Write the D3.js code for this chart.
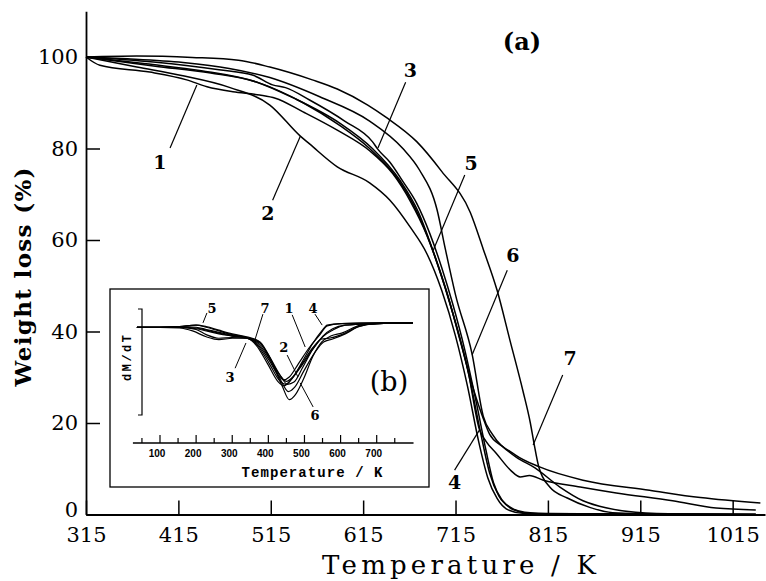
<!DOCTYPE html>
<html><head><meta charset="utf-8">
<script src="https://cdn.jsdelivr.net/npm/d3@7"></script>
<style>
html,body{margin:0;padding:0;background:#fff;}
svg{display:block;}
text{fill:#000;}
</style></head>
<body>
<svg id="chart" width="766" height="581"></svg>
<script>
// ---------- Main TGA data (Temperature K, Weight %) ----------
const tga1 = [[315,100],[330,98.2],[384,96.7],[424,95],[446,93.5],[474,92.4],[503,91.7],[520,91],[550,88],[587,84],[622,79.5],[647,74.5],[666,68.5],[684,61],[700,52],[715,42],[730,30],[742,18],[752,9],[762,4],[775,1.5],[790,0.5],[820,0.1],[1040,0]];
const tga2 = [[315,100],[370,97.8],[417,96],[471,93.3],[514,89.5],[547,82.7],[557,81],[587,76],[622,72.5],[644,68.7],[666,62.8],[684,57],[700,49],[715,39],[728,28],[740,16],[750,8],[760,3.5],[772,1],[790,0.2],[1040,0]];
const tga3 = [[315,100],[388,98.9],[459,97.2],[496,96],[517,93.9],[531,93.3],[557,90.6],[595,86],[625,81.5],[631,79.8],[644,77],[658,72.8],[673,68],[687,61.5],[700,54],[712,46],[725,36],[738,24],[748,14],[756,7],[766,3],[778,1],[795,0.2],[1040,0]];
const tga4 = [[315,100],[390,98],[450,96.5],[500,94.5],[540,91],[590,85.5],[625,80],[655,73],[675,66],[695,55],[712,44],[728,32],[741,18.5],[748,16],[759,13.4],[775,9.6],[785,8.2],[795,8.5],[810,7.5],[850,6],[889,4.7],[950,3],[997,1.4],[1040,1]];
const tga5 = [[315,100],[380,98.5],[440,97],[500,94.5],[550,90],[590,85],[622,80],[650,74],[670,67.5],[690,58],[705,49],[720,38],[735,27],[745,21],[752,17.5],[765,15],[781,12.5],[801,10.2],[828,6],[853,3],[879,1.4],[910,0.5],[960,0.1],[1040,0]];
const tga6 = [[315,100],[360,99.6],[420,98.8],[470,97.5],[514,95.5],[568,91.3],[622,86],[658,80],[676,75.3],[695,66.6],[704,58],[715,48],[733,35],[745,21.5],[755,17.5],[780,13],[806,10.4],[853,7.5],[925,5.3],[980,3.7],[1045,2.5]];
const tga7 = [[315,100],[370,100.2],[430,99.9],[480,99.3],[514,97.8],[560,95],[587,93],[620,89.5],[640,86.8],[673,81.5],[700,75],[731,66],[745,58],[760,49],[774,38],[788,27],[796,20],[800,15.5],[805,10.5],[817,6],[836,3.6],[861,1.5],[885,0.4],[950,0.1],[1040,0]];
const tgaSeries = [tga1, tga2, tga3, tga4, tga5, tga6, tga7];

// curve labels: [text, labelT, labelW, leaderFromT, leaderFromW, leaderToT, leaderToW]
const mainLabels = [
  ["1",395,77,406,80.1,435,93.9],
  ["2",512,65.9,517,68.7,547,82.7],
  ["3",666,97.2,661,94.5,631,80.1],
  ["5",732,76.8,725,74.2,691,57.8],
  ["6",777,56.7,771,53.4,733,34.9],
  ["7",839,34.2,831,30.5,799,15.2],
  ["4",714,7.1,714,9.7,741,18.5]
];
const xTicks = [315,415,515,615,715,815,915,1015];
const yTicks = [0,20,40,60,80,100];

// ---------- Inset DTG data (Temperature K, dM/dT arbitrary) ----------
const dtg1 = [[36,0],[100,0],[154,0.01],[200,0],[228,-0.03],[263,-0.07],[300,-0.11],[340,-0.14],[372,-0.24],[402,-0.45],[428,-0.66],[443,-0.72],[458,-0.68],[483,-0.5],[513,-0.28],[543,-0.1],[563,0.02],[600,0.05],[700,0.06],[800,0.06]];
const dtg2 = [[36,0],[100,0],[154,0],[200,-0.02],[228,-0.05],[263,-0.09],[300,-0.12],[340,-0.15],[372,-0.22],[402,-0.42],[433,-0.66],[450,-0.74],[468,-0.68],[493,-0.52],[523,-0.3],[553,-0.12],[578,-0.04],[613,0.03],[700,0.05],[800,0.06]];
const dtg3 = [[36,0],[100,0],[154,-0.01],[190,-0.05],[228,-0.13],[263,-0.17],[300,-0.15],[340,-0.15],[367,-0.25],[398,-0.5],[428,-0.75],[443,-0.8],[463,-0.72],[493,-0.5],[523,-0.28],[548,-0.16],[568,-0.15],[603,-0.1],[645,0],[700,0.05],[800,0.06]];
const dtg4 = [[36,0],[100,0],[154,0.01],[200,0.03],[228,0],[263,-0.05],[300,-0.1],[340,-0.14],[372,-0.26],[403,-0.5],[433,-0.74],[448,-0.78],[465,-0.7],[493,-0.48],[523,-0.22],[548,-0.05],[563,0.03],[603,0.05],[700,0.06],[800,0.06]];
const dtg5 = [[36,0],[100,0],[154,0.01],[200,0.03],[228,0.01],[263,-0.04],[300,-0.09],[340,-0.13],[377,-0.2],[408,-0.45],[438,-0.76],[455,-0.88],[473,-0.82],[498,-0.6],[528,-0.35],[553,-0.2],[578,-0.16],[613,-0.09],[655,0.02],[700,0.05],[800,0.06]];
const dtg6 = [[36,0],[100,0],[154,0],[200,-0.03],[228,-0.1],[263,-0.15],[300,-0.14],[340,-0.15],[377,-0.22],[408,-0.47],[438,-0.8],[458,-0.99],[475,-0.92],[498,-0.7],[523,-0.4],[548,-0.2],[573,-0.12],[603,-0.08],[655,0.03],[700,0.05],[800,0.06]];
const dtg7 = [[36,0],[100,0],[154,0],[200,-0.01],[228,-0.04],[263,-0.08],[300,-0.12],[340,-0.14],[372,-0.19],[403,-0.4],[433,-0.66],[453,-0.78],[471,-0.75],[495,-0.55],[523,-0.3],[551,-0.12],[578,-0.02],[613,0.03],[700,0.05],[800,0.06]];
const dtgSeries = [dtg1, dtg2, dtg3, dtg4, dtg5, dtg6, dtg7];

const insetLabels = [
  ["5",244,0.264,230,0.196,219,0.06],
  ["7",391,0.264,385,0.18,363,-0.17],
  ["3",294,-0.68,308,-0.56,338,-0.215],
  ["1",457,0.264,466,0.17,502,-0.27],
  ["4",524,0.264,529,0.18,549,0.03],
  ["2",443,-0.27,452,-0.38,482,-0.68],
  ["6",529,-1.2,524,-1.09,488,-0.76]
];
const insetMajorTicks = [100,200,300,400,500,600,700];
const insetMinorTicks = [50,150,250,350,450,550,650,750];

// ---------- Drawing ----------
const svg = d3.select("#chart");
const serif = "'DejaVu Serif','Liberation Serif',serif";

const x = d3.scaleLinear().domain([315,1050]).range([86,765]);
const y = d3.scaleLinear().domain([0,110]).range([514.5,11.25]);

// axes
const xAxis = d3.axisBottom(x).tickValues(xTicks).tickSizeInner(-14).tickSizeOuter(0).tickPadding(13).tickFormat(d3.format("d"));
const gx = svg.append("g").attr("transform","translate(0,514.5)").call(xAxis);
gx.selectAll("text").attr("font-family",serif).attr("font-size",21);
gx.selectAll("line").attr("stroke","#000").attr("stroke-width",1.5);
gx.select(".domain").attr("stroke","#000").attr("stroke-width",1.8);

const yAxis = d3.axisLeft(y).tickValues(yTicks).tickSizeInner(-14).tickSizeOuter(0).tickPadding(8).tickFormat(d3.format("d"));
const gy = svg.append("g").attr("transform","translate(86,0)").call(yAxis);
gy.selectAll("text").attr("font-family",serif).attr("font-size",21)
  .attr("y",d=>d===0?-5:0);
gy.selectAll("line").attr("stroke","#000").attr("stroke-width",1.5);
gy.select(".domain").attr("stroke","#000").attr("stroke-width",1.8);

// axis titles
svg.append("text").attr("x",459).attr("y",574).attr("text-anchor","middle")
  .attr("font-family",serif).attr("font-size",26).attr("textLength",274).attr("lengthAdjust","spacing")
  .text("Temperature / K");
svg.append("text").attr("transform","translate(31,277) rotate(-90)").attr("text-anchor","middle")
  .attr("font-family",serif).attr("font-weight","bold").attr("font-size",23).attr("textLength",219).attr("lengthAdjust","spacing")
  .text("Weight loss (%)");

// main curves
const line = d3.line().x(d=>x(d[0])).y(d=>y(d[1])).curve(d3.curveMonotoneX);
svg.append("g").selectAll("path").data(tgaSeries).join("path")
  .attr("d",line).attr("fill","none").attr("stroke","#000").attr("stroke-width",1.5);

// main labels
const gl = svg.append("g");
mainLabels.forEach(l=>{
  gl.append("line").attr("x1",x(l[3])).attr("y1",y(l[4])).attr("x2",x(l[5])).attr("y2",y(l[6]))
    .attr("stroke","#000").attr("stroke-width",1.2);
  gl.append("text").attr("x",x(l[1])).attr("y",y(l[2])).attr("dy","0.36em").attr("text-anchor","middle")
    .attr("font-family",serif).attr("font-weight","bold").attr("font-size",19).text(l[0]);
});
svg.append("text").attr("x",522).attr("y",41).attr("dy","0.36em").attr("text-anchor","middle")
  .attr("font-family",serif).attr("font-weight","bold").attr("font-size",24).text("(a)");

// ---------- Inset ----------
const gi = svg.append("g");
gi.append("rect").attr("x",110).attr("y",289).attr("width",319).attr("height",198)
  .attr("fill","#fff").attr("stroke","#000").attr("stroke-width",1.3);

const xi = d3.scaleLinear().domain([100,700]).range([160,376.7]);
const yi = d3.scaleLinear().domain([-1.2,0.25]).range([415,309]);

// inset x axis
const axY = 443;
gi.append("line").attr("x1",xi(25)).attr("x2",xi(802)).attr("y1",axY).attr("y2",axY).attr("stroke","#000").attr("stroke-width",1.3);
gi.selectAll(".maj").data(insetMajorTicks).join("line").attr("class","maj")
  .attr("x1",d=>xi(d)).attr("x2",d=>xi(d)).attr("y1",axY).attr("y2",axY-8).attr("stroke","#000").attr("stroke-width",1.2);
gi.selectAll(".min").data(insetMinorTicks).join("line").attr("class","min")
  .attr("x1",d=>xi(d)).attr("x2",d=>xi(d)).attr("y1",axY).attr("y2",axY-5).attr("stroke","#000").attr("stroke-width",1.2);
gi.selectAll(".tl").data(insetMajorTicks).join("text").attr("class","tl")
  .attr("x",d=>xi(d)-3).attr("y",457).attr("text-anchor","middle")
  .attr("font-family","'Liberation Sans',Arial,sans-serif").attr("font-weight","bold").attr("font-size",10)
  .text(d=>d);
gi.append("text").attr("x",312).attr("y",477).attr("text-anchor","middle")
  .attr("font-family","'Liberation Mono','Courier New',monospace").attr("font-weight","bold").attr("font-size",14)
  .attr("textLength",141).attr("lengthAdjust","spacing").text("Temperature / K");

// bracket y
const bx = 142;
gi.append("path").attr("d",`M${bx-4},${yi(0.25)}H${bx}V${yi(-1.2)}H${bx-4}`)
  .attr("fill","none").attr("stroke","#000").attr("stroke-width",1.2);
gi.append("text").attr("transform","translate(131,358) rotate(-90)").attr("text-anchor","middle")
  .attr("font-family","'Liberation Mono','Courier New',monospace").attr("font-weight","bold").attr("font-size",12)
  .attr("textLength",46).attr("lengthAdjust","spacing").text("dM/dT");

// inset curves
const iline = d3.line().x(d=>xi(d[0])).y(d=>yi(d[1])).curve(d3.curveMonotoneX);
gi.append("g").selectAll("path").data(dtgSeries).join("path")
  .attr("d",iline).attr("fill","none").attr("stroke","#000").attr("stroke-width",1.2);

insetLabels.forEach(l=>{
  gi.append("line").attr("x1",xi(l[3])).attr("y1",yi(l[4])).attr("x2",xi(l[5])).attr("y2",yi(l[6]))
    .attr("stroke","#000").attr("stroke-width",1);
  gi.append("text").attr("x",xi(l[1])).attr("y",yi(l[2])).attr("dy","0.36em").attr("text-anchor","middle")
    .attr("font-family",serif).attr("font-weight","bold").attr("font-size",13).text(l[0]);
});
gi.append("text").attr("x",389).attr("y",381).attr("dy","0.36em").attr("text-anchor","middle")
  .attr("font-family",serif).attr("font-size",27).text("(b)");
</script>
</body></html>
